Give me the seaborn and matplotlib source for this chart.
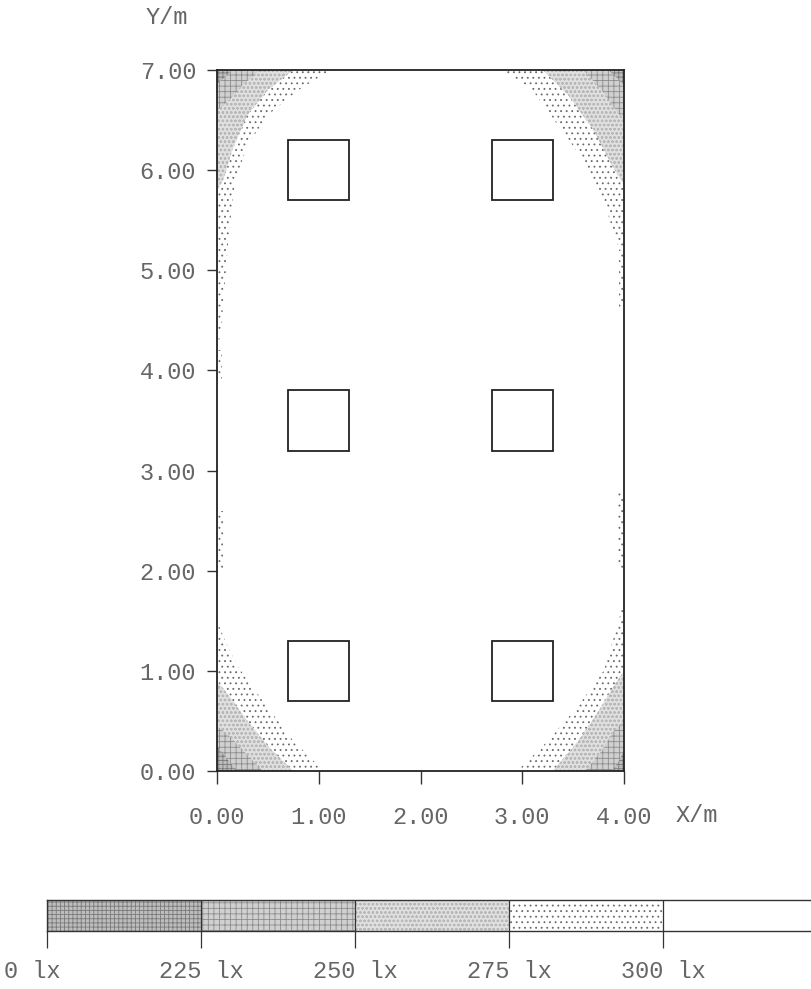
import matplotlib
matplotlib.use("Agg")
import matplotlib.pyplot as plt
from matplotlib.patches import Rectangle
import numpy as np
import seaborn as sns

# Room and luminaires (m)
room_w = 4.0
room_l = 7.0
lum_x = [1.0, 3.0]
lum_y = [1.0, 3.5, 6.0]
lum_size = 0.6

# Illuminance classes
level_labels = ["0 lx", "225 lx", "250 lx", "275 lx", "300 lx"]
level_faces = ["#bdbdbd", "#d0d0d0", "#e0e0e0", "#ffffff", "#ffffff"]
level_hatch = ["++++", "+++", "oooo", "...", ""]
level_hcolor = ["#7a7a7a", "#8c8c8c", "#b8b8b8", "#6a6a6a", "#ffffff"]

# Contour boundaries, per corner, outermost class first (275-300, 250-275, 225-250, <225)
tl_corner = (0.0, 7.0)
tl_bounds = [
    [(1.12, 7.0), (0.8, 6.8), (0.5, 6.55), (0.3, 6.25), (0.18, 5.9), (0.12, 5.4), (0.08, 4.9), (0.04, 4.4), (0.0, 4.2)],
    [(0.75, 7.0), (0.5, 6.8), (0.3, 6.55), (0.15, 6.2), (0.06, 5.9), (0.0, 5.8)],
    [(0.42, 7.0), (0.25, 6.85), (0.12, 6.7), (0.0, 6.6)],
    [(0.15, 7.0), (0.08, 6.93), (0.0, 6.86)],
]
tr_corner = (4.0, 7.0)
tr_bounds = [
    [(2.8, 7.0), (3.1, 6.8), (3.35, 6.45), (3.6, 6.1), (3.8, 5.7), (3.92, 5.3), (4.0, 5.1)],
    [(3.2, 7.0), (3.45, 6.75), (3.7, 6.4), (3.88, 6.05), (4.0, 5.85)],
    [(3.6, 7.0), (3.78, 6.8), (3.92, 6.6), (4.0, 6.5)],
    [(3.85, 7.0), (3.95, 6.9), (4.0, 6.85)],
]
bl_corner = (0.0, 0.0)
bl_bounds = [
    [(1.05, 0.0), (0.75, 0.3), (0.45, 0.7), (0.2, 1.05), (0.08, 1.3), (0.0, 1.5)],
    [(0.75, 0.0), (0.5, 0.25), (0.3, 0.5), (0.12, 0.75), (0.0, 0.9)],
    [(0.45, 0.0), (0.28, 0.18), (0.12, 0.35), (0.0, 0.45)],
    [(0.2, 0.0), (0.1, 0.12), (0.0, 0.25)],
]
br_corner = (4.0, 0.0)
br_bounds = [
    [(2.95, 0.0), (3.25, 0.3), (3.55, 0.65), (3.8, 1.0), (3.92, 1.4), (4.0, 1.7)],
    [(3.3, 0.0), (3.55, 0.3), (3.75, 0.6), (3.9, 0.85), (4.0, 1.0)],
    [(3.62, 0.0), (3.78, 0.2), (3.9, 0.4), (4.0, 0.5)],
    [(3.88, 0.0), (3.95, 0.1), (4.0, 0.2)],
]
# narrow 275-300 lx strips along the long walls: (wall x, y from, y to, depth)
edge_strips = [(0.0, 2.0, 2.6, 0.06), (0.0, 3.9, 4.2, 0.05), (4.0, 2.0, 2.8, 0.06), (4.0, 4.6, 5.2, 0.05)]

sns.set_style("white")
plt.rcParams["font.family"] = ["Liberation Mono", "DejaVu Sans Mono"]
plt.rcParams["hatch.linewidth"] = 0.6
txt_color = "#666666"

fig = plt.figure(figsize = (8.11, 9.89), dpi = 100)
W, H = 811, 989


def px(x, y):
    return x / W, 1 - y / H


ax = fig.add_axes([217 / W, 218 / H, 407 / W, 701 / H])

for corner, bounds in [(tl_corner, tl_bounds), (tr_corner, tr_bounds), (bl_corner, bl_bounds), (br_corner, br_bounds)]:
    for i, pts in enumerate(bounds):
        lvl = 3 - i
        xs = [corner[0]] + [p[0] for p in pts]
        ys = [corner[1]] + [p[1] for p in pts]
        ax.fill(xs, ys, facecolor = level_faces[lvl], edgecolor = level_hcolor[lvl], hatch = level_hatch[lvl], lw = 0, zorder = 1)

for wx, y0, y1, d in edge_strips:
    x0 = wx if wx == 0 else wx - d
    ax.add_patch(Rectangle((x0, y0), d, y1 - y0, facecolor = "white", edgecolor = level_hcolor[3], hatch = level_hatch[3], lw = 0, zorder = 1))

for cx in lum_x:
    for cy in lum_y:
        ax.add_patch(Rectangle((cx - lum_size / 2, cy - lum_size / 2), lum_size, lum_size, fill = False, edgecolor = "#222222", lw = 1.3, zorder = 3))

ax.set_xlim(0, room_w)
ax.set_ylim(0, room_l)
ax.set_xticks(np.arange(0, room_w + 0.5, 1.0))
ax.set_yticks(np.arange(0, room_l + 0.5, 1.0))
ax.set_xticklabels([f"{v:.2f}" for v in ax.get_xticks()])
ax.set_yticklabels([f"{v:.2f}" for v in ax.get_yticks()])
ax.tick_params(axis = "x", direction = "out", length = 9, width = 1.0, color = "#333333", pad = 16, labelsize = 17, labelcolor = txt_color, bottom = True)
ax.tick_params(axis = "y", direction = "out", length = 7, width = 1.0, color = "#333333", pad = 8, labelsize = 17, labelcolor = txt_color, left = True)
for sp in ax.spines.values():
    sp.set_visible(True)
    sp.set_color("#222222")
    sp.set_linewidth(1.3)

fig.text(*px(167, 18), "Y/m", ha = "center", va = "center", fontsize = 17, color = txt_color)
fig.text(*px(697, 815), "X/m", ha = "center", va = "center", fontsize = 17, color = txt_color)

# Legend bar
lax = fig.add_axes([47 / W, 58 / H, (W - 47) / W, 31 / H])
seg = np.arange(len(level_labels))
for i in seg:
    lax.bar(i, 1, width = 1, align = "edge", color = level_faces[i], edgecolor = level_hcolor[i], hatch = level_hatch[i], lw = 0)
lax.set_xlim(0, (W - 47) / 154)
lax.set_ylim(0, 1)
lax.set_yticks([])
lax.set_xticks(seg)
lax.set_xticklabels([])
lax.tick_params(axis = "x", direction = "out", length = 12, width = 0.9, color = "#333333", bottom = True)
for i in seg[1:]:
    lax.axvline(i, color = "#333333", lw = 0.9)
for name, sp in lax.spines.items():
    sp.set_color("#333333")
    sp.set_linewidth(1.0)
lax.spines["right"].set_visible(False)
for i, lab in enumerate(level_labels):
    xpos = 47 + 154 * i if i > 0 else 32
    fig.text(*px(xpos, 972), lab, ha = "center", va = "center", fontsize = 17, color = txt_color)

fig.savefig("out.png", dpi = 100)
